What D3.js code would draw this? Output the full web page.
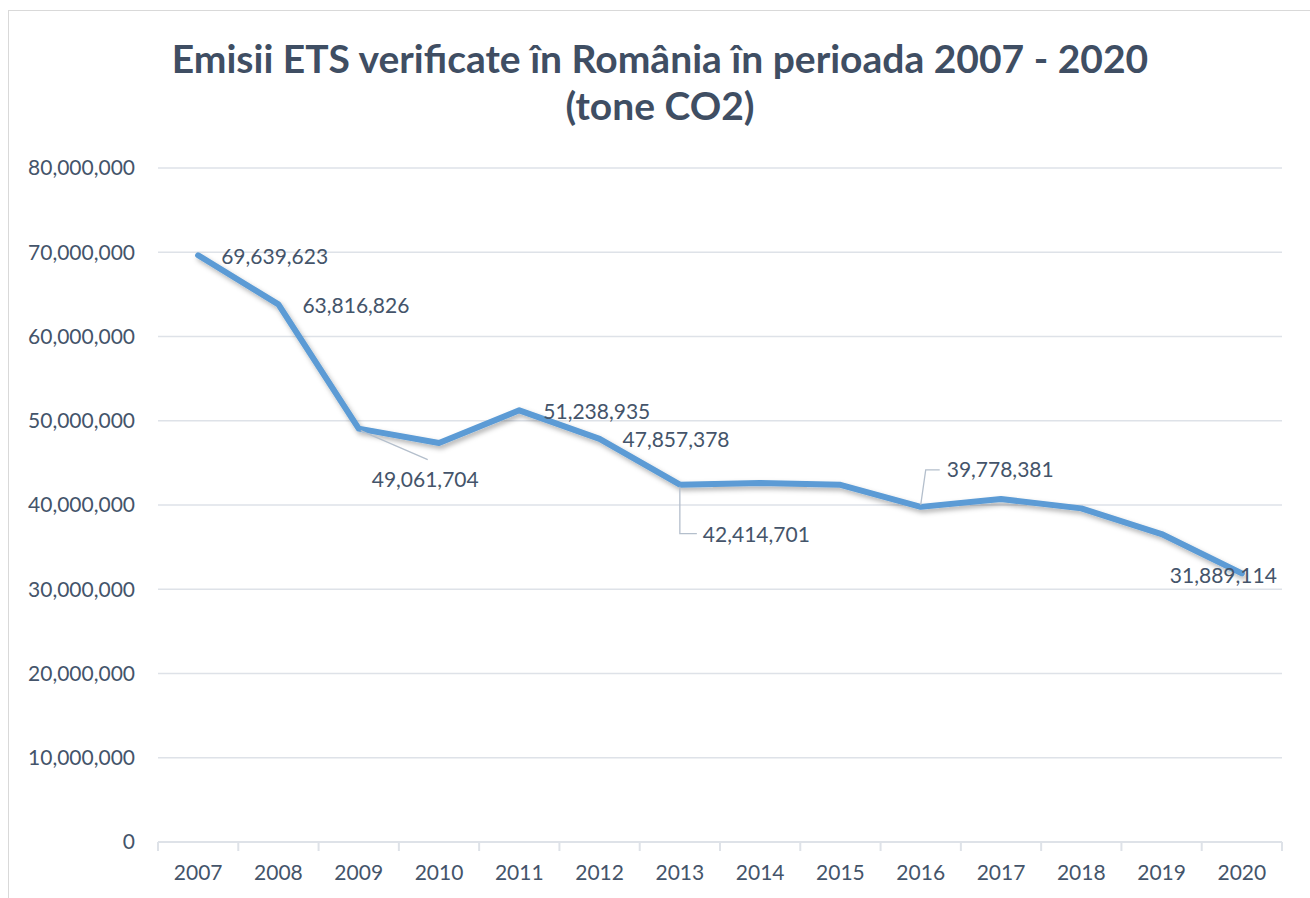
<!doctype html>
<html>
<head>
<meta charset="utf-8">
<title>Emisii ETS verificate în România</title>
<style>
  body { margin: 0; background: #fff; }
  text { font-family: Lato, "Open Sans", sans-serif; }
</style>
</head>
<body>
<svg width="1310" height="898"></svg>
<script src="https://d3js.org/d3.v7.min.js"></script>
<script>
// data
var years = ["2007","2008","2009","2010","2011","2012","2013","2014","2015","2016","2017","2018","2019","2020"];
var emissions = [69639623, 63816826, 49061704, 47350000, 51238935, 47857378, 42414701,
                 42600000, 42400000, 39778381, 40700000, 39600000, 36550000, 31889114];
var yTicks = [0, 10000000, 20000000, 30000000, 40000000, 50000000, 60000000, 70000000, 80000000];
var labelledYears = ["2007","2008","2009","2011","2012","2013","2016","2020"];
var titleLines = ["Emisii ETS verificate în România în perioada 2007 - 2020", "(tone CO2)"];

// label placement relative to the point (layout, not data)
var labelLayout = {
  "2007": {dx: 23, dy: 1},
  "2008": {dx: 24, dy: 1},
  "2009": {dx: 13, dy: 51, leader: [[2, 2], [69, 31]]},
  "2011": {dx: 24, dy: 1},
  "2012": {dx: 23, dy: 1},
  "2013": {dx: 23, dy: 50, leader: [[0, 2], [0, 49], [17, 49]]},
  "2016": {dx: 26, dy: -37, leader: [[0, -2], [5, -37], [19, -37]]},
  "2020": {dx: -72, dy: 2}
};

var textColor = "#44546A";
var gridColor = "#DEE2E8";
var lineColor = "#5B9BD5";

var svg = d3.select("svg");

// chart border
svg.append("rect")
    .attr("x", 8.5).attr("y", 10.5)
    .attr("width", 1320).attr("height", 900)
    .attr("fill", "none")
    .attr("stroke", "#D9D9D9");

var defs = svg.append("defs");
var shadow = defs.append("filter").attr("id", "shadow")
    .attr("x", "-10%").attr("y", "-10%").attr("width", "120%").attr("height", "130%");
shadow.append("feDropShadow")
    .attr("dx", 2).attr("dy", 3).attr("stdDeviation", 2.5)
    .attr("flood-color", "#000").attr("flood-opacity", 0.3);

var x = d3.scaleBand().domain(years).range([158, 1282]);
var y = d3.scaleLinear().domain([0, 80000000]).range([842, 168]);
var fmt = d3.format(",");

// title
svg.append("text")
    .attr("x", 660).attr("y", 0)
    .attr("text-anchor", "middle")
    .attr("font-size", 39)
    .attr("font-weight", "bold")
    .attr("fill", "#3F4E63")
  .selectAll("tspan")
  .data(titleLines)
  .enter().append("tspan")
    .attr("x", 660)
    .attr("y", function(d, i) { return 73 + i * 47; })
    .text(function(d) { return d; });

// gridlines
svg.append("g")
  .selectAll("line")
  .data(yTicks.slice(1))
  .enter().append("line")
    .attr("x1", 158).attr("x2", 1282)
    .attr("y1", function(d) { return y(d); })
    .attr("y2", function(d) { return y(d); })
    .attr("stroke", gridColor)
    .attr("stroke-width", 1.3);

// y labels
svg.append("g")
  .selectAll("text")
  .data(yTicks)
  .enter().append("text")
    .attr("x", 135)
    .attr("y", function(d) { return y(d); })
    .attr("dy", "0.35em")
    .attr("text-anchor", "end")
    .attr("font-size", 21)
    .attr("fill", textColor)
    .text(function(d) { return fmt(d); });

// x axis
var xAxis = svg.append("g").attr("transform", "translate(0,842)");
xAxis.append("line")
    .attr("x1", 158).attr("x2", 1282)
    .attr("stroke", gridColor).attr("stroke-width", 2);
xAxis.selectAll(".tick")
  .data(years.concat(["end"]))
  .enter().append("line")
    .attr("x1", function(d) { return d === "end" ? x.range()[1] : x(d); })
    .attr("x2", function(d) { return d === "end" ? x.range()[1] : x(d); })
    .attr("y1", 0).attr("y2", 9)
    .attr("stroke", gridColor).attr("stroke-width", 2);
xAxis.selectAll("text")
  .data(years)
  .enter().append("text")
    .attr("x", function(d) { return x(d) + x.bandwidth() / 2; })
    .attr("y", 38)
    .attr("text-anchor", "middle")
    .attr("font-size", 21)
    .attr("fill", textColor)
    .text(function(d) { return d; });

// line
var points = years.map(function(d, i) { return {year: d, value: emissions[i]}; });
var line = d3.line()
    .x(function(d) { return x(d.year) + x.bandwidth() / 2; })
    .y(function(d) { return y(d.value); });

svg.append("path")
    .datum(points)
    .attr("d", line)
    .attr("fill", "none")
    .attr("stroke", lineColor)
    .attr("stroke-width", 6)
    .attr("stroke-linejoin", "round")
    .attr("stroke-linecap", "round")
    .attr("filter", "url(#shadow)");

// leader lines and data labels
var labelled = points.filter(function(d) { return labelledYears.indexOf(d.year) >= 0; });

svg.append("g")
  .selectAll("path")
  .data(labelled.filter(function(d) { return labelLayout[d.year].leader; }))
  .enter().append("path")
    .attr("d", function(d) {
      var px = x(d.year) + x.bandwidth() / 2, py = y(d.value);
      return d3.line()(labelLayout[d.year].leader.map(function(p) { return [px + p[0], py + p[1]]; }));
    })
    .attr("fill", "none")
    .attr("stroke", "#B4BFCC")
    .attr("stroke-width", 1.3);

svg.append("g")
  .selectAll("text")
  .data(labelled)
  .enter().append("text")
    .attr("x", function(d) { return x(d.year) + x.bandwidth() / 2 + labelLayout[d.year].dx; })
    .attr("y", function(d) { return y(d.value) + labelLayout[d.year].dy; })
    .attr("dy", "0.35em")
    .attr("font-size", 21)
    .attr("fill", textColor)
    .text(function(d) { return fmt(d.value); });
</script>
</body>
</html>
